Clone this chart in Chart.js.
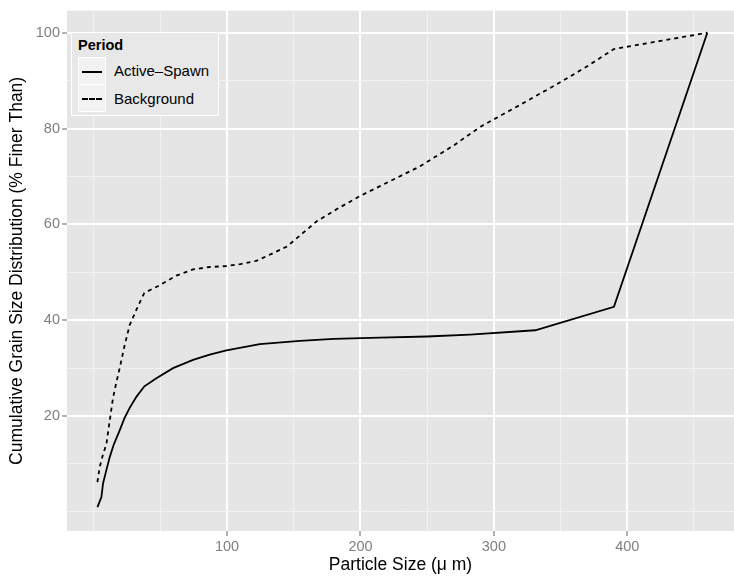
<!DOCTYPE html>
<html>
<head>
<meta charset="utf-8">
<script src="https://cdn.jsdelivr.net/npm/chart.js@4.4.0/dist/chart.umd.min.js"></script>
<style>
  html, body { margin: 0; padding: 0; background: #fff; }
  #wrap { position: relative; width: 734px; height: 581px; font-family: "Liberation Sans", Arial, sans-serif; }
  #legend { position: absolute; left: 71px; top: 32px; width: 148px; height: 84px;
    background: #e8e8e8; border: 1px solid #fff; box-sizing: border-box; }
  #legend .title { position: absolute; left: 6px; top: 4px; font-weight: bold; font-size: 14.5px; color: #000; }
  #legend .key { position: absolute; left: 6px; width: 28px; height: 28px; background: #f2f2f2;
    border: 1px solid #fff; box-sizing: border-box; }
  #legend .key span { position: absolute; left: 3px; right: 3px; top: 13px; border-top: 2px solid #000; }
  #legend .key span.dash { border-top: 2px dashed #000; }
  #legend .lab { position: absolute; left: 42px; font-size: 15px; color: #000; line-height: 18px; }
</style>
</head>
<body>
<div id="wrap">
  <canvas id="chart" width="734" height="581"></canvas>
  <div id="legend">
    <div class="title">Period</div>
    <div class="key" style="top:24px"><span></span></div>
    <div class="lab" style="top:29px">Active–Spawn</div>
    <div class="key" style="top:51px"><span class="dash"></span></div>
    <div class="lab" style="top:57px">Background</div>
  </div>
</div>
<script>
// ── Data ──────────────────────────────────────────────────────────────────────
const spawnSize = [2.8, 5.8, 7, 9.5, 12, 15, 19.5, 23, 27, 32, 38, 47, 59.5, 74.5, 87, 99.5, 124.5, 154.5, 180, 214.5, 250, 282, 331, 390, 460];
const spawnFiner = [1.0, 3.1, 5.9, 8.7, 11.4, 14, 17, 19.5, 21.7, 24, 26.2, 27.9, 30, 31.7, 32.8, 33.7, 35, 35.7, 36.1, 36.35, 36.6, 37, 37.9, 42.8, 100];

const bgSize = [2.8, 4.5, 7, 9.5, 12, 14.5, 17, 19.5, 23, 27, 33, 38, 49.5, 62, 74.5, 87, 99.5, 110, 122, 133, 145, 156, 167, 183, 199.5, 222, 244.5, 270, 290, 320, 350, 370, 390, 425, 460];
const bgFiner = [6.2, 9.3, 12, 14.1, 19, 23.8, 27, 30, 34.5, 39, 42.8, 45.7, 47.3, 49.3, 50.6, 51.1, 51.3, 51.7, 52.4, 53.8, 55.4, 58, 60.6, 63.3, 65.9, 69, 72.1, 76.5, 80.4, 85, 89.7, 93, 96.6, 98.3, 100];

const xGrid = [0, 50, 100, 150, 200, 250, 300, 350, 400, 450];
const xLabels = [100, 200, 300, 400];
const yGrid = [0, 10, 20, 30, 40, 50, 60, 70, 80, 90, 100];
const yLabels = [20, 40, 60, 80, 100];

// ── Helpers ───────────────────────────────────────────────────────────────────
function toPoints(xs, ys) {
    return xs.map(function (x, i) { return { x: x, y: ys[i] }; });
}

const panelBg = {
    id: 'panelBg',
    beforeDraw: function (chart) {
        const a = chart.chartArea;
        const ctx = chart.ctx;
        ctx.save();
        ctx.fillStyle = '#e5e5e5';
        ctx.fillRect(a.left, a.top, a.right - a.left, a.bottom - a.top);
        ctx.restore();
    },
};

function axis(grid, labels, extra) {
    return Object.assign({
        type: 'linear',
        afterBuildTicks: function (s) {
            s.ticks = grid.map(function (v) { return { value: v }; });
        },
        border: { display: false },
        grid: {
            color: function (c) { return labels.includes(c.tick.value) ? '#ffffff' : '#f2f2f2'; },
            lineWidth: function (c) { return labels.includes(c.tick.value) ? 2 : 1; },
            tickColor: function (c) { return labels.includes(c.tick.value) ? '#7f7f7f' : 'rgba(0,0,0,0)'; },
            tickLength: 5,
            tickWidth: 1.2,
        },
        ticks: {
            autoSkip: false,
            maxRotation: 0,
            color: '#7f7f7f',
            font: { family: '"Liberation Sans", Arial, sans-serif', size: 14.5 },
            callback: function (v) { return labels.includes(v) ? String(v) : ''; },
        },
    }, extra);
}

new Chart(document.getElementById('chart'), {
    type: 'line',
    data: {
        datasets: [
            {
                label: 'Active–Spawn',
                data: toPoints(spawnSize, spawnFiner),
                borderColor: '#000',
                borderWidth: 1.8,
                pointRadius: 0,
                tension: 0,
                fill: false,
            },
            {
                label: 'Background',
                data: toPoints(bgSize, bgFiner),
                borderColor: '#000',
                borderWidth: 1.8,
                borderDash: [4, 4],
                pointRadius: 0,
                tension: 0,
                fill: false,
            },
        ],
    },
    options: {
        responsive: false,
        animation: false,
        devicePixelRatio: 1,
        layout: { padding: { top: 6, right: 0, left: 0, bottom: 0 } },
        plugins: { legend: { display: false }, tooltip: { enabled: false } },
        scales: {
            x: axis(xGrid, xLabels, {
                min: -20,
                max: 480,
                afterFit: function (s) { s.height = 50; },
                ticks: Object.assign(axis(xGrid, xLabels).ticks, { padding: 2 }),
                title: {
                    display: true,
                    text: 'Particle Size (\u03bc m)',
                    color: '#000',
                    font: { family: '"Liberation Sans", Arial, sans-serif', size: 17.5 },
                    padding: { top: 0, bottom: 5 },
                },
            }),
            y: axis(yGrid, yLabels, {
                min: -4,
                max: 104.6,
                afterFit: function (s) { s.width = 67; },
                ticks: Object.assign(axis(yGrid, yLabels).ticks, { padding: 2 }),
                title: {
                    display: true,
                    text: 'Cumulative Grain Size Distribution (% Finer Than)',
                    color: '#000',
                    font: { family: '"Liberation Sans", Arial, sans-serif', size: 17.5 },
                    padding: { top: 7, bottom: 0 },
                },
            }),
        },
    },
    plugins: [panelBg],
});
</script>
</body>
</html>
